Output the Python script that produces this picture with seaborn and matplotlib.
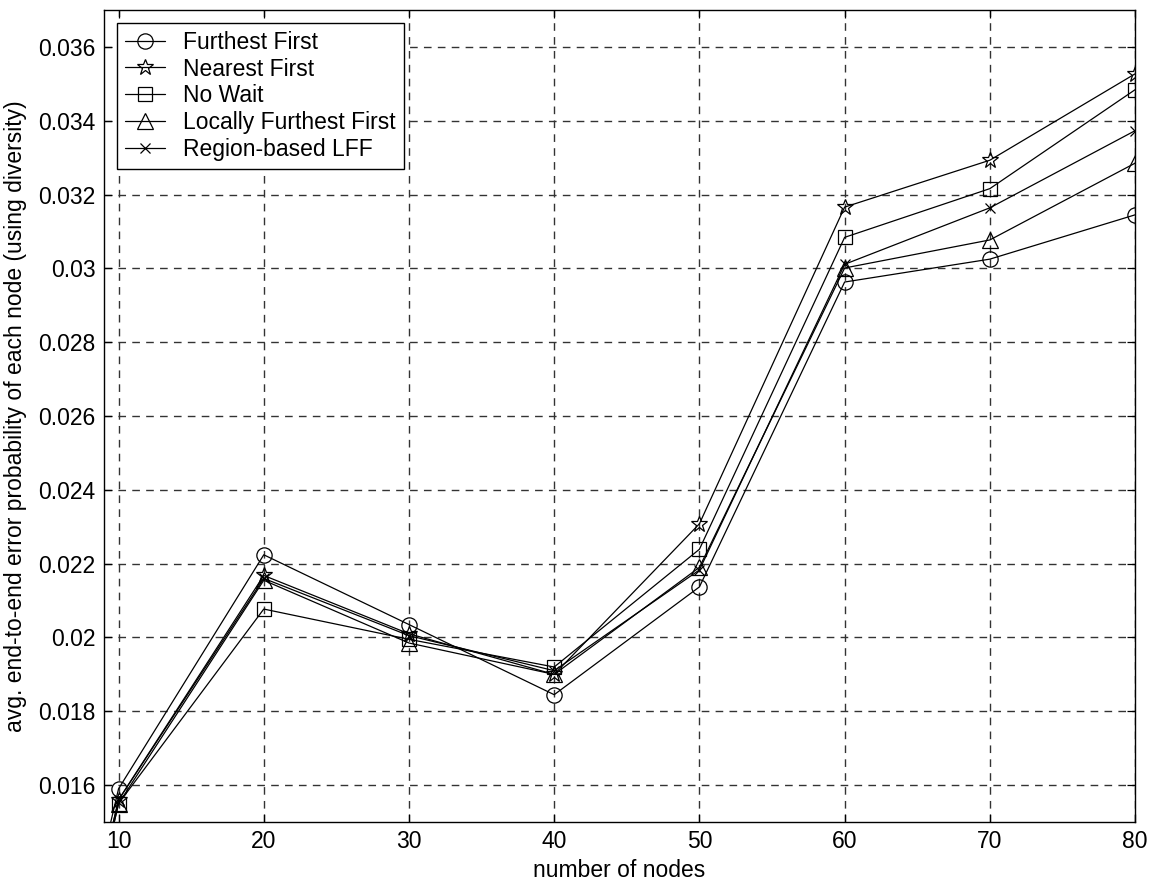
import matplotlib
matplotlib.use("Agg")
import matplotlib.pyplot as plt
import seaborn as sns
import pandas as pd

sns.set_style("white")
plt.rcParams['font.family'] = ['Liberation Sans', 'DejaVu Sans']
plt.rcParams['text.color'] = 'black'
plt.rcParams['axes.labelcolor'] = 'black'
plt.rcParams['xtick.color'] = 'black'
plt.rcParams['ytick.color'] = 'black'

nodes = [5, 10, 20, 30, 40, 50, 60, 70, 80]
furthest_first = [0.0075, 0.01590, 0.02224, 0.02035, 0.01845, 0.02137, 0.02963, 0.03025, 0.03145]
nearest_first = [0.0072, 0.01560, 0.02168, 0.02010, 0.01900, 0.02308, 0.03166, 0.03293, 0.03527]
no_wait = [0.0071, 0.01550, 0.02077, 0.01995, 0.01920, 0.02239, 0.03084, 0.03216, 0.03484]
locally_ff = [0.0070, 0.01550, 0.02155, 0.01985, 0.01900, 0.02190, 0.03001, 0.03077, 0.03285]
region_lff = [0.0072, 0.01560, 0.02160, 0.02005, 0.01910, 0.02183, 0.03011, 0.03164, 0.03373]

series_names = ["Furthest First", "Nearest First", "No Wait",
                "Locally Furthest First", "Region-based LFF"]
series_values = [furthest_first, nearest_first, no_wait, locally_ff, region_lff]
series_markers = ["o", "*", "s", "^", "x"]
series_msize = [11, 12, 10, 12, 7]

x_ticks = [10, 20, 30, 40, 50, 60, 70, 80]
y_ticks = [0.016, 0.018, 0.020, 0.022, 0.024, 0.026, 0.028, 0.030, 0.032, 0.034, 0.036]
y_tick_labels = ["0.016", "0.018", "0.02", "0.022", "0.024", "0.026",
                 "0.028", "0.03", "0.032", "0.034", "0.036"]

FS = 16.5

fig = plt.figure(figsize=(11.52, 8.84), dpi=100)
ax = fig.add_axes([0.0903, 0.0701, 0.895, 0.9186])

for name, vals, mk, ms in zip(series_names, series_values, series_markers, series_msize):
    df = pd.DataFrame({"nodes": nodes, "value": vals})
    sns.lineplot(data=df, x="nodes", y="value", ax=ax, label=name,
                 color="black", linewidth=0.9, marker=mk, markersize=ms,
                 markerfacecolor="none", markeredgecolor="black",
                 markeredgewidth=0.9, clip_on=True)

ax.set_xlim(9, 80)
ax.set_ylim(0.015, 0.037)
ax.set_xticks(x_ticks)
ax.set_xticklabels([str(t) for t in x_ticks])
ax.set_yticks(y_ticks)
ax.set_yticklabels(y_tick_labels)

ax.grid(True, color="0.2", linestyle=(0, (5.5, 4.5)), linewidth=1.0)
ax.tick_params(direction="in", length=6, width=0.9, labelsize=FS,
               top=True, right=True, left=True, bottom=True, pad=6)
for sp in ax.spines.values():
    sp.set_color("black")
    sp.set_linewidth(1.0)

ax.set_xlabel("number of nodes", fontsize=FS, labelpad=4)
ax.set_ylabel("avg. end-to-end error probability of each node (using diversity)",
              fontsize=FS, labelpad=8)

leg = ax.legend(loc="upper left", fontsize=FS, frameon=True, fancybox=False,
                framealpha=1, edgecolor="black", handlelength=1.75,
                borderaxespad=0.55, labelspacing=0.17, handletextpad=0.8,
                borderpad=0.35)
leg.get_frame().set_linewidth(1.0)

fig.savefig("out.png", dpi=100, facecolor="white")
